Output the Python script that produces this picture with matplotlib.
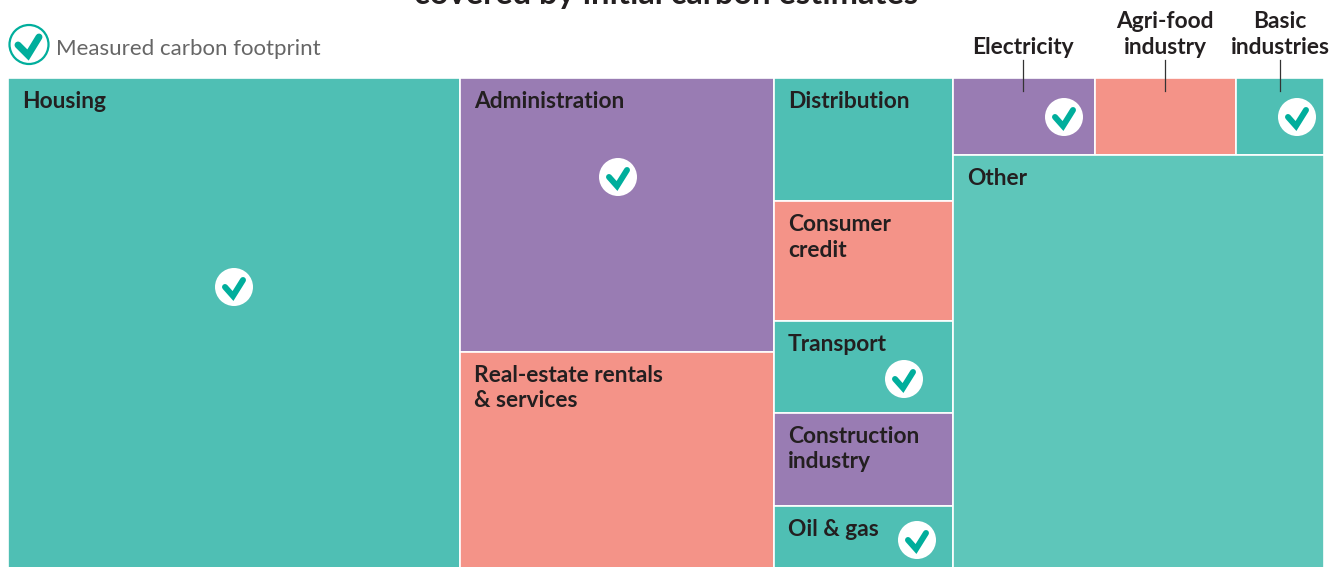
import matplotlib.pyplot as plt
from matplotlib.patches import Circle, Rectangle

# Part de chaque bloc (% de la surface totale)
housing = 34.35
administration = 13.31
real_estate = 10.55
distribution = 3.41
consumer_credit = 3.32
transport = 2.55
construction = 2.58
oil_gas = 1.75
electricity = 1.69
agri_food = 1.68
basic_industries = 1.05
other = 23.77

TEAL = '#4FBFB4'
PURPLE = '#997CB3'
SALMON = '#F49388'
LIGHT_TEAL = '#5EC6BA'
CHECK = '#00AE9C'
INK = '#231F20'
W, H = 1332, 567

plt.rcParams['font.family'] = ['Lato', 'DejaVu Sans']

fig = plt.figure(figsize=(W / 100, H / 100), dpi=100)
# Les blocs descendent jusqu'au bord bas de l'image, sans filet blanc
ax = fig.add_axes([8 / W, -2 / H, 1316 / W, 491 / H])
ax.set_xlim(0, 100)
ax.set_ylim(100, 0)
ax.axis('off')

# Calque en pixels pour le titre, la légende et les coches
over = fig.add_axes([0, 0, 1, 1], zorder=5)
over.set_xlim(0, W)
over.set_ylim(H, 0)
over.axis('off')


def cell(x, y, w, h, color, label=None):
    ax.add_patch(Rectangle((x, y), w, h, facecolor=color, edgecolor='white', linewidth=1.2,
                           clip_on=False))
    if label:
        # va='baseline' se cale sur la dernière ligne du texte
        dy = -30 - 25.5 * label.count('\n')
        ax.annotate(label, (x, y), xytext=(14, dy), textcoords='offset pixels', fontsize=16.4,
                    fontweight='bold', color=INK, va='baseline', linespacing=1.28)


def column(x, rows):
    # rows : liste de (valeur, couleur, libellé), empilés de haut en bas
    width = sum(r[0] for r in rows)
    y = 0
    for value, color, label in rows:
        h = value / width * 100
        cell(x, y, width, h, color, label)
        y += h
    return x + width


def check(cx, cy):
    over.add_patch(Circle((cx, cy), 19, facecolor='white', edgecolor='none'))
    over.plot([cx - 9, cx - 1, cx + 9], [cy, cy + 9, cy - 7], color=CHECK, lw=4.3,
              solid_capstyle='round', solid_joinstyle='miter')


x = column(0, [(housing, TEAL, 'Housing')])
x = column(x, [(administration, PURPLE, 'Administration'),
               (real_estate, SALMON, 'Real-estate rentals\n& services')])
x = column(x, [(distribution, TEAL, 'Distribution'),
               (consumer_credit, SALMON, 'Consumer\ncredit'),
               (transport, TEAL, 'Transport'),
               (construction, PURPLE, 'Construction\nindustry'),
               (oil_gas, TEAL, 'Oil & gas')])

# Dernière colonne : une rangée de trois blocs au-dessus de « Other »
top_row = [(electricity, PURPLE), (agri_food, SALMON), (basic_industries, TEAL)]
top_sum = sum(r[0] for r in top_row)
col_w = top_sum + other
row_h = top_sum / col_w * 100
xx = x
for value, color in top_row:
    w = value / row_h * 100
    cell(xx, 0, w, row_h, color)
    xx += w
cell(x, row_h, col_w, 100 - row_h, LIGHT_TEAL, 'Other')

for cx, cy in [(234, 287), (618, 177), (904, 379), (917, 540), (1064, 117), (1297, 117)]:
    check(cx, cy)

# Libellés au-dessus des petits blocs
for cx, label in [(1023, 'Electricity'), (1165, 'Agri-food\nindustry'), (1280, 'Basic\nindustries')]:
    over.text(cx, 54, label, ha='center', va='baseline', fontsize=16.4, fontweight='bold',
              color=INK, linespacing=1.28)
    over.plot([cx, cx], [60, 91], color='#333333', lw=0.9)

# Légende
over.add_patch(Circle((29, 44.5), 19.5, facecolor='white', edgecolor=CHECK, lw=1.6))
over.plot([18, 28, 39], [45, 55, 37], color=CHECK, lw=5, solid_capstyle='round',
          solid_joinstyle='miter')
over.text(56, 55, 'Measured carbon footprint', fontsize=16, fontweight='normal',
          color='#666666', va='baseline')

# Titre coupé par le haut de l'image, comme sur l'original
over.text(666, 4, 'covered by initial carbon estimates', ha='center', va='baseline',
          fontsize=23.5, fontweight='bold', color=INK)

fig.savefig('out.png', dpi=100)
